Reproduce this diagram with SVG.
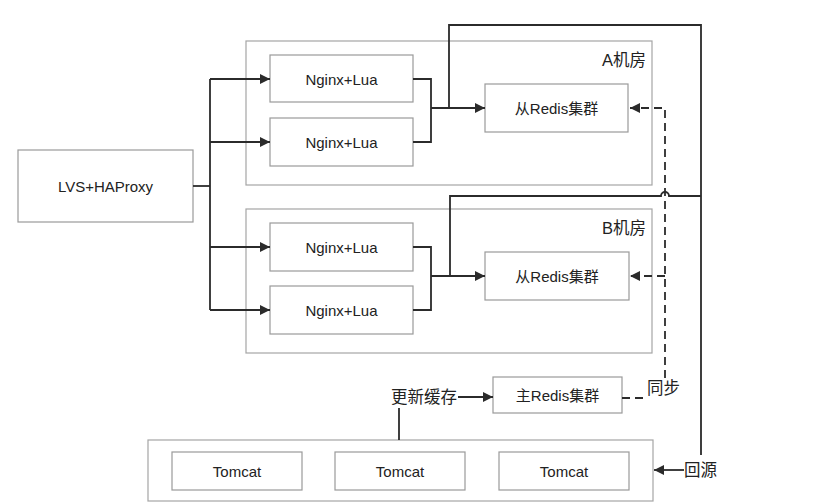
<svg xmlns="http://www.w3.org/2000/svg" width="821" height="504" viewBox="0 0 821 504">
<style>
.bg{fill:#fff}
.box{fill:#fff;stroke:#9a9a9a;stroke-width:1.2}
.grp{fill:none;stroke:#a5a5a5;stroke-width:1.2}
.t{font-family:"Liberation Sans","Noto Sans CJK SC",sans-serif;font-size:15px;fill:#222;text-anchor:middle;dominant-baseline:central}
.lbl{font-family:"Liberation Sans","Noto Sans CJK SC",sans-serif;font-size:16.5px;fill:#222;dominant-baseline:central}
.ln{fill:none;stroke:#2b2b2b;stroke-width:1.8}
.dash{fill:none;stroke:#2b2b2b;stroke-width:1.8;stroke-dasharray:8 5}
</style>
<defs>
<marker id="ah" viewBox="0 0 10 10" refX="10" refY="5" markerWidth="11" markerHeight="10" markerUnits="userSpaceOnUse" orient="auto">
<path d="M0,0 L10,5 L0,10 z" fill="#2b2b2b"/>
</marker>
</defs>
<rect class="bg" x="0" y="0" width="821" height="504"/>

<g id="roomA">
<rect class="grp" x="246" y="41" width="406" height="144"/>
<text class="lbl" x="602" y="60">A机房</text>
</g>
<g id="roomB">
<rect class="grp" x="246" y="209" width="406" height="144"/>
<text class="lbl" x="602" y="228">B机房</text>
</g>
<g id="tomcatGroup">
<rect class="grp" x="148" y="440" width="505" height="61"/>
</g>

<g id="lvs">
<rect class="box" x="18" y="150" width="175" height="72"/>
<text class="t" x="105.5" y="186">LVS+HAProxy</text>
</g>
<g id="nginxA1">
<rect class="box" x="270" y="55" width="143" height="47"/>
<text class="t" x="341.5" y="79">Nginx+Lua</text>
</g>
<g id="nginxA2">
<rect class="box" x="270" y="118" width="143" height="48"/>
<text class="t" x="341.5" y="142">Nginx+Lua</text>
</g>
<g id="nginxB1">
<rect class="box" x="270" y="223" width="143" height="48"/>
<text class="t" x="341.5" y="247">Nginx+Lua</text>
</g>
<g id="nginxB2">
<rect class="box" x="270" y="286" width="143" height="48"/>
<text class="t" x="341.5" y="310">Nginx+Lua</text>
</g>
<g id="redisA">
<rect class="box" x="485" y="84" width="143" height="48"/>
<text class="t" x="556.5" y="108">从Redis集群</text>
</g>
<g id="redisB">
<rect class="box" x="485" y="252" width="144" height="48"/>
<text class="t" x="557" y="276">从Redis集群</text>
</g>
<g id="redisMaster">
<rect class="box" x="493" y="377" width="129" height="36"/>
<text class="t" x="557.5" y="395">主Redis集群</text>
</g>
<g id="tomcat1">
<rect class="box" x="172" y="452" width="130" height="38"/>
<text class="t" x="237" y="471">Tomcat</text>
</g>
<g id="tomcat2">
<rect class="box" x="335" y="452" width="130" height="38"/>
<text class="t" x="400" y="471">Tomcat</text>
</g>
<g id="tomcat3">
<rect class="box" x="499" y="452" width="130" height="38"/>
<text class="t" x="564" y="471">Tomcat</text>
</g>

<g id="connectors">
<path class="ln" d="M193,186 H210"/>
<path class="ln" d="M210,79 V310"/>
<path class="ln" d="M210,79 H270" marker-end="url(#ah)"/>
<path class="ln" d="M210,142 H270" marker-end="url(#ah)"/>
<path class="ln" d="M210,247 H270" marker-end="url(#ah)"/>
<path class="ln" d="M210,310 H270" marker-end="url(#ah)"/>
<path class="ln" d="M413,79 H431 V142 H413"/>
<path class="ln" d="M431,108 H485" marker-end="url(#ah)"/>
<path class="ln" d="M413,247 H431 V310 H413"/>
<path class="ln" d="M431,276 H485" marker-end="url(#ah)"/>
<path class="ln" d="M449,108 V25 H701 V455"/>
<path class="ln" d="M450,276 V196 H661 A4,4 0 0 1 669,196 H701"/>
<text class="lbl" x="684" y="470">回源</text>
<path class="ln" d="M684,470 H654" marker-end="url(#ah)"/>
<path class="dash" d="M665,378 V108 H630" marker-end="url(#ah)"/>
<path class="dash" d="M665,276 H630" marker-end="url(#ah)"/>
<path class="dash" d="M622,398 H647"/>
<text class="lbl" x="647" y="388">同步</text>
<text class="lbl" x="391" y="397">更新缓存</text>
<path class="ln" d="M458,397 H493" marker-end="url(#ah)"/>
<path class="ln" d="M399,408 V440"/>
</g>
</svg>
